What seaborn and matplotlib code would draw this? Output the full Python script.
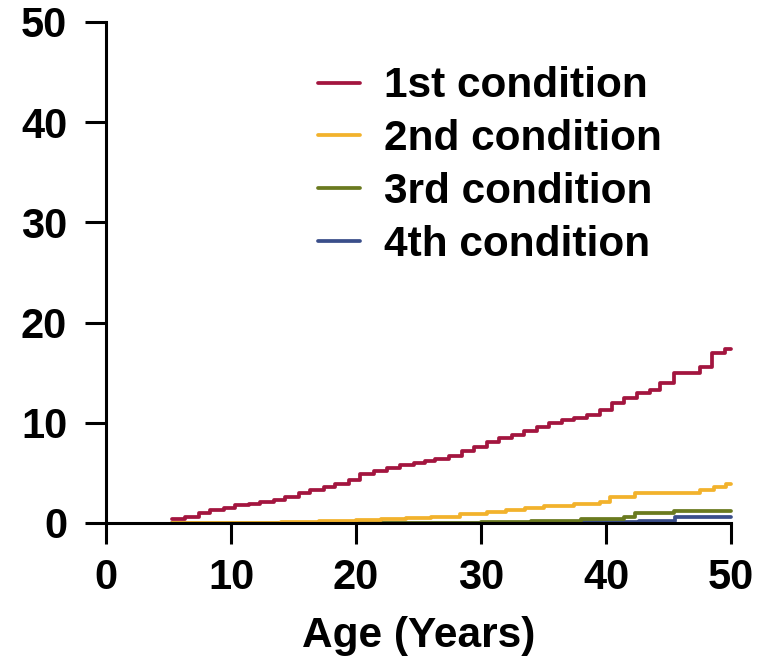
import matplotlib
matplotlib.use("Agg")
import matplotlib.pyplot as plt
import seaborn as sns
import pandas as pd

# Data (step curves, steps-post)
c1_x = [5.3, 6.3, 7.4, 8.3, 9.4, 10.3, 11.4, 12.3, 13.4, 14.3, 15.4, 16.3, 17.4, 18.3, 19.4,
        20.3, 21.4, 22.5, 23.5, 24.6, 25.5, 26.3, 27.4, 28.5, 29.4, 30.5, 31.4, 32.5, 33.4,
        34.5, 35.4, 36.5, 37.4, 38.5, 39.5, 40.5, 41.4, 42.5, 43.5, 44.3, 45.4, 47.5, 48.5,
        49.5, 50.0]
c1_y = [0.4, 0.6, 1.0, 1.3, 1.5, 1.8, 1.9, 2.1, 2.3, 2.6, 3.0, 3.3, 3.6, 3.9, 4.3,
        4.9, 5.2, 5.5, 5.8, 6.0, 6.2, 6.4, 6.7, 7.2, 7.6, 8.1, 8.5, 8.8, 9.2,
        9.6, 10.0, 10.3, 10.5, 10.8, 11.3, 12.0, 12.5, 13.0, 13.3, 14.0, 15.0, 15.6, 17.0,
        17.4, 17.4]
c2_x = [5.3, 14.0, 17.0, 20.0, 22.0, 24.0, 26.0, 28.3, 30.5, 32.0, 33.5, 35.0, 37.4, 39.5,
        40.3, 42.3, 47.5, 48.6, 49.6, 50.0]
c2_y = [0.0, 0.05, 0.15, 0.25, 0.35, 0.45, 0.6, 0.9, 1.1, 1.3, 1.5, 1.7, 1.9, 2.1,
        2.6, 3.0, 3.3, 3.6, 3.9, 3.9]
c3_x = [5.3, 30.0, 34.0, 38.0, 41.4, 42.3, 45.4, 50.0]
c3_y = [0.0, 0.1, 0.2, 0.35, 0.6, 1.0, 1.2, 1.2]
c4_x = [5.3, 35.0, 42.6, 45.5, 50.0]
c4_y = [0.0, 0.05, 0.2, 0.6, 0.6]

labels = ["1st condition", "2nd condition", "3rd condition", "4th condition"]
colors = ["#A3153F", "#F2B22C", "#6A7A1F", "#3A4E8A"]
x_ticks = [0, 10, 20, 30, 40, 50]
y_ticks = [0, 10, 20, 30, 40, 50]

frames = []
for lab, xs, ys in zip(labels, [c1_x, c2_x, c3_x, c4_x], [c1_y, c2_y, c3_y, c4_y]):
    frames.append(pd.DataFrame({"Age": xs, "Value": ys, "Condition": lab}))
df = pd.concat(frames, ignore_index=True)

sns.set_style("ticks")
plt.rcParams["font.family"] = ["Liberation Sans", "DejaVu Sans"]
plt.rcParams["font.weight"] = "bold"
plt.rcParams["text.color"] = "black"
plt.rcParams["axes.labelcolor"] = "black"
plt.rcParams["xtick.color"] = "black"
plt.rcParams["ytick.color"] = "black"

fig = plt.figure(figsize=(7.65, 6.61), dpi=100)
ax = fig.add_axes([0.1386, 0.2088, 0.8170, 0.7580])

# draw in reverse so 4th is on top, matching reference
for lab, col in reversed(list(zip(labels, colors))):
    sub = df[df["Condition"] == lab]
    sns.lineplot(data=sub, x="Age", y="Value", ax=ax, color=col, linewidth=2.7,
                 drawstyle="steps-post", label=lab, clip_on=False, estimator=None,
                 sort=False)

ax.set_xlim(0, 50)
ax.set_ylim(0, 50)
ax.set_xticks(x_ticks)
ax.set_yticks(y_ticks)
for s in ["top", "right"]:
    ax.spines[s].set_visible(False)
for s in ["left", "bottom"]:
    ax.spines[s].set_linewidth(2.2)
    ax.spines[s].set_color("black")
ax.tick_params(axis="both", direction="out", length=15, width=2.2, labelsize=30,
               colors="black")
ax.tick_params(axis="y", pad=13)
ax.tick_params(axis="x", pad=10)
for t in ax.get_xticklabels() + ax.get_yticklabels():
    t.set_fontweight("bold")
ax.set_xlabel("Age (Years)", fontsize=30.5, fontweight="bold", labelpad=13, color="black")
ax.set_ylabel("")

h, l = ax.get_legend_handles_labels()
order = [l.index(x) for x in labels]
leg = ax.legend([h[i] for i in order], [l[i] for i in order], loc="upper left",
                bbox_to_anchor=(0.312, 0.945), frameon=False,
                prop={"size": 30.5, "weight": "bold"}, handlelength=1.0,
                handletextpad=0.55, labelspacing=0.3, borderaxespad=0)
for t in leg.get_texts():
    t.set_color("black")

fig.savefig("out.png", dpi=100)
